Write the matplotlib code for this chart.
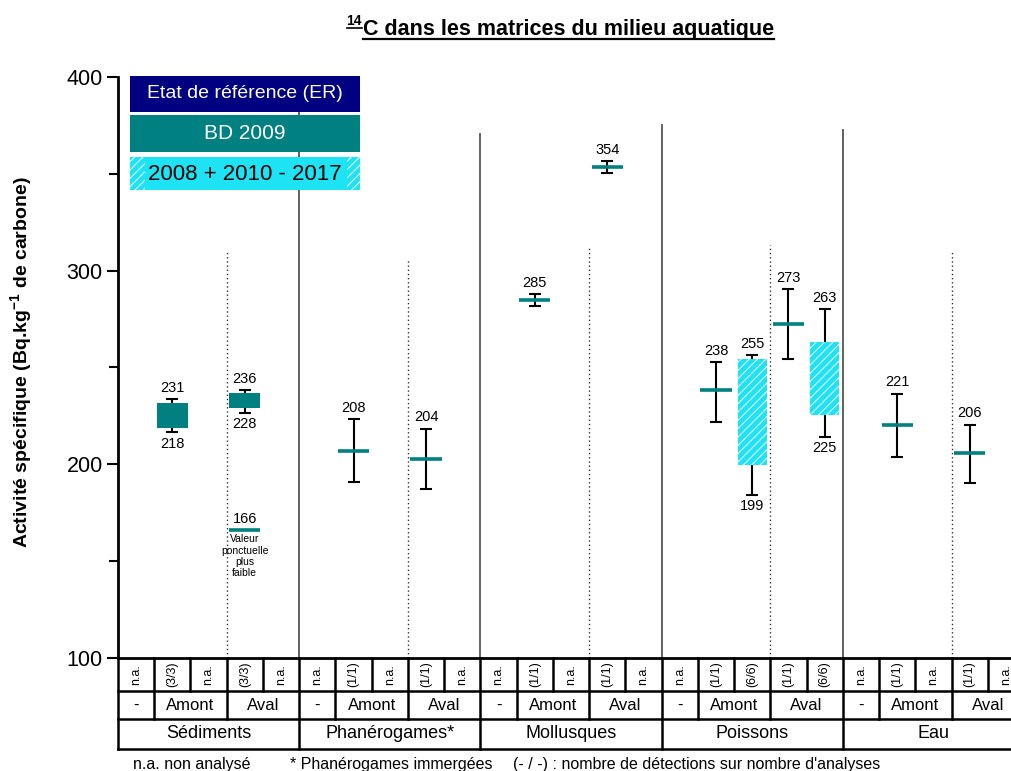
import matplotlib
matplotlib.use('Agg')
import matplotlib.pyplot as plt
import matplotlib.transforms as mtransforms
from matplotlib.patches import Rectangle
from matplotlib.lines import Line2D
import numpy as np

plt.rcParams['font.family'] = ['Liberation Sans', 'DejaVu Sans']
plt.rcParams['mathtext.fontset'] = 'custom'
plt.rcParams['mathtext.rm'] = 'Liberation Sans'
plt.rcParams['mathtext.bf'] = 'Liberation Sans:bold'
plt.rcParams['hatch.linewidth'] = 0.7

W, H = 1011, 771

# --- données ---
groups = ['Sédiments', 'Phanérogames*', 'Mollusques', 'Poissons', 'Eau']
sub_labels = ['-', 'Amont', 'Aval']
counts = [
    ['n.a.', '(3/3)', 'n.a.', '(3/3)', 'n.a.'],
    ['n.a.', '(1/1)', 'n.a.', '(1/1)', 'n.a.'],
    ['n.a.', '(1/1)', 'n.a.', '(1/1)', 'n.a.'],
    ['n.a.', '(1/1)', '(6/6)', '(1/1)', '(6/6)'],
    ['n.a.', '(1/1)', 'n.a.', '(1/1)', 'n.a.'],
]

# BD 2009 : valeurs uniques avec incertitude
bd_cols = [6, 8, 11, 13, 16, 18, 21, 23]
bd_vals = [207, 203, 285, 353.5, 238.5, 272.5, 220.5, 206]
bd_lo = [191, 187.5, 281.5, 350.5, 222, 254.5, 204, 190.5]
bd_hi = [223.5, 218.5, 288, 356.5, 253, 290.5, 236.5, 220.5]
bd_labels = ['208', '204', '285', '354', '238', '273', '221', '206']

# BD 2009 : sédiments (boîtes)
sed_cols = [1, 3]
sed_box_lo = [219, 229]
sed_box_hi = [231.5, 237]
sed_lo = [216.5, 226.5]
sed_hi = [233.5, 238.5]
sed_lab_hi = ['231', '236']
sed_lab_lo = ['218', '228']

# valeur ponctuelle
pt_col = 3
pt_val = 166

# 2008 + 2010 - 2017 : poissons
fish_cols = [17, 19]
fish_box_lo = [199.5, 225.7]
fish_box_hi = [254.4, 263.4]
fish_lo = [184.2, 214.3]
fish_hi = [256.3, 280.2]
fish_lab_hi = ['255', '263']
fish_lab_lo = ['199', '225']

# séparateurs
sep_x = [5, 10, 15, 20]
sep_top = [400, 370.6, 375.2, 372.6]
dot_x = [3, 8, 13, 18, 23]
dot_top = [310.5, 306, 311.7, 313, 310.7]

teal = '#008080'
navy = '#000080'
cyan = '#1ee3f5'


def fy(p):
    return 1 - p / H


def fx(p):
    return p / W


fig = plt.figure(figsize=(W / 100, H / 100), dpi=100)
ax = fig.add_axes([fx(118), fy(658), 906 / W, 581 / H])
ax.set_xlim(0, 25)
ax.set_ylim(100, 400)

# séparateurs de groupes
for x, t in zip(sep_x, sep_top):
    ax.plot([x, x], [100, t], color='#555555', lw=1.3, zorder=1)
for x, t in zip(dot_x, dot_top):
    ax.plot([x, x], [100, t], color='#333333', lw=1.0, dashes=(1, 2), zorder=1)

# BD 2009 valeurs uniques
bx = np.array(bd_cols) + 0.5
bv = np.array(bd_vals)
ax.errorbar(bx, bv, yerr=[bv - np.array(bd_lo), np.array(bd_hi) - bv], fmt='none',
            ecolor='black', elinewidth=1.5, capsize=4.5, capthick=1.5, zorder=2)
ax.hlines(bv, bx - 0.43, bx + 0.43, color=teal, lw=2.6, zorder=3)
for x, h, lab in zip(bx, bd_hi, bd_labels):
    ax.annotate(lab, (x, h), xytext=(0, 3), textcoords='offset points',
                ha='center', va='bottom', fontsize=10.5)

# sédiments
sx = np.array(sed_cols) + 0.5
mid = (np.array(sed_lo) + np.array(sed_hi)) / 2
ax.errorbar(sx, mid, yerr=[mid - np.array(sed_lo), np.array(sed_hi) - mid], fmt='none',
            ecolor='black', elinewidth=1.5, capsize=4.5, capthick=1.5, zorder=2)
ax.bar(sx, np.array(sed_box_hi) - np.array(sed_box_lo), bottom=sed_box_lo, width=0.86,
       color=teal, lw=0, zorder=3)
for x, h, l, lh, ll in zip(sx, sed_hi, sed_lo, sed_lab_hi, sed_lab_lo):
    ax.annotate(lh, (x, h), xytext=(0, 3), textcoords='offset points',
                ha='center', va='bottom', fontsize=10.5)
    ax.annotate(ll, (x, l), xytext=(0, -3), textcoords='offset points',
                ha='center', va='top', fontsize=10.5)

# valeur ponctuelle
ax.hlines([pt_val], pt_col + 0.5 - 0.43, pt_col + 0.5 + 0.43, color=teal, lw=2.6, zorder=3)
ax.annotate(str(pt_val), (pt_col + 0.5, pt_val), xytext=(0, 3), textcoords='offset points',
            ha='center', va='bottom', fontsize=10.5)
ax.annotate('Valeur\nponctuelle\nplus\nfaible', (pt_col + 0.5, pt_val), xytext=(0, -3),
            textcoords='offset points', ha='center', va='top', fontsize=7.5, linespacing=1.15)

# poissons 2008 + 2010 - 2017
fx_ = np.array(fish_cols) + 0.5
mid = (np.array(fish_lo) + np.array(fish_hi)) / 2
ax.errorbar(fx_, mid, yerr=[mid - np.array(fish_lo), np.array(fish_hi) - mid], fmt='none',
            ecolor='black', elinewidth=1.5, capsize=4.5, capthick=1.5, zorder=2)
ax.bar(fx_, np.array(fish_box_hi) - np.array(fish_box_lo), bottom=fish_box_lo, width=0.8,
       facecolor=cyan, edgecolor='white', hatch='////', lw=0, zorder=3)
for x, h, l, lh, ll in zip(fx_, fish_hi, fish_lo, fish_lab_hi, fish_lab_lo):
    ax.annotate(lh, (x, h), xytext=(0, 3), textcoords='offset points',
                ha='center', va='bottom', fontsize=10.5)
    ax.annotate(ll, (x, l), xytext=(0, -3), textcoords='offset points',
                ha='center', va='top', fontsize=10.5)

# axes
ax.spines['top'].set_visible(False)
ax.spines['right'].set_visible(False)
ax.spines['left'].set_linewidth(2)
ax.spines['bottom'].set_linewidth(2)
ax.set_xticks([])
ax.set_yticks([100, 200, 300, 400])
ax.set_yticks([150, 250, 350], minor=True)
ax.tick_params(axis='y', which='major', length=8, width=1.5, labelsize=15.5, pad=3)
ax.tick_params(axis='y', which='minor', length=6.5, width=1.5)

fig.text(fx(22), fy(362), r'Activité spécifique (Bq.kg$^{\mathbf{-1}}$ de carbone)',
         rotation=90, ha='center', va='center', fontsize=14, fontweight='bold')

# tableau sous l'axe
trans = mtransforms.blended_transform_factory(ax.transData, fig.transFigure)
rows = [658, 691, 719, 749]
for r in rows[1:]:
    ax.add_line(Line2D([0, 25], [fy(r), fy(r)], transform=trans, color='black',
                       lw=1.8, clip_on=False))
for i in range(26):
    k = i % 5
    if k == 0:
        bottom = 749
    elif k in (1, 3):
        bottom = 719
    else:
        bottom = 691
    ax.add_line(Line2D([i, i], [fy(658), fy(bottom)], transform=trans, color='black',
                       lw=1.8, clip_on=False))

for g, (name, cnt) in enumerate(zip(groups, counts)):
    x0 = g * 5
    for j, c in enumerate(cnt):
        ax.text(x0 + j + 0.5, fy(674.5), c, transform=trans, rotation=90,
                ha='center', va='center', fontsize=9, clip_on=False)
    for lab, xc in zip(sub_labels, [0.5, 2, 4]):
        ax.text(x0 + xc, fy(705), lab, transform=trans, ha='center', va='center',
                fontsize=12, clip_on=False)
    ax.text(x0 + 2.5, fy(734), name, transform=trans, ha='center', va='center',
            fontsize=13, clip_on=False)

fig.text(fx(133), fy(765), 'n.a. non analysé', ha='left', va='center', fontsize=11.5)
fig.text(fx(290), fy(765), '* Phanérogames immergées', ha='left', va='center', fontsize=11.5)
fig.text(fx(513), fy(765), "(- / -) : nombre de détections sur nombre d'analyses",
         ha='left', va='center', fontsize=11.5)

# légende
def leg_box(y0, y1, color, hatch=None):
    fig.add_artist(Rectangle((fx(130), fy(y1)), 230 / W, (y1 - y0) / H, transform=fig.transFigure,
                             facecolor=color, edgecolor='white' if hatch else color,
                             hatch=hatch, lw=0, zorder=5))

leg_box(76, 112, navy)
leg_box(115, 152, teal)
leg_box(157, 190, cyan, hatch='////')
fig.add_artist(Rectangle((fx(145), fy(190)), 202 / W, 33 / H, transform=fig.transFigure,
                         facecolor=cyan, lw=0, zorder=6))
fig.text(fx(245), fy(94), 'Etat de référence (ER)', ha='center', va='center',
         color='white', fontsize=14, zorder=7)
fig.text(fx(245), fy(133.5), 'BD 2009', ha='center', va='center',
         color='white', fontsize=15, zorder=7)
fig.text(fx(245), fy(174), '2008 + 2010 - 2017', ha='center', va='center',
         color='black', fontsize=16, zorder=7)

# titre souligné
t_main = fig.text(fx(363), fy(35), 'C dans les matrices du milieu aquatique', ha='left',
                  va='baseline', fontsize=15.5, fontweight='bold')
t_sup = fig.text(fx(362), fy(25), '14', ha='right', va='baseline', fontsize=10,
                 fontweight='bold')
fig.canvas.draw()
r = fig.canvas.get_renderer()
bb = t_main.get_window_extent(r)
fig.add_artist(Line2D([bb.x0 / W, bb.x1 / W], [fy(39), fy(39)], transform=fig.transFigure,
                      color='black', lw=1.6))
bb2 = t_sup.get_window_extent(r)
fig.add_artist(Line2D([bb2.x0 / W, bb2.x1 / W], [fy(27.5), fy(27.5)], transform=fig.transFigure,
                      color='black', lw=1.2))

fig.savefig('out.png', dpi=100)
